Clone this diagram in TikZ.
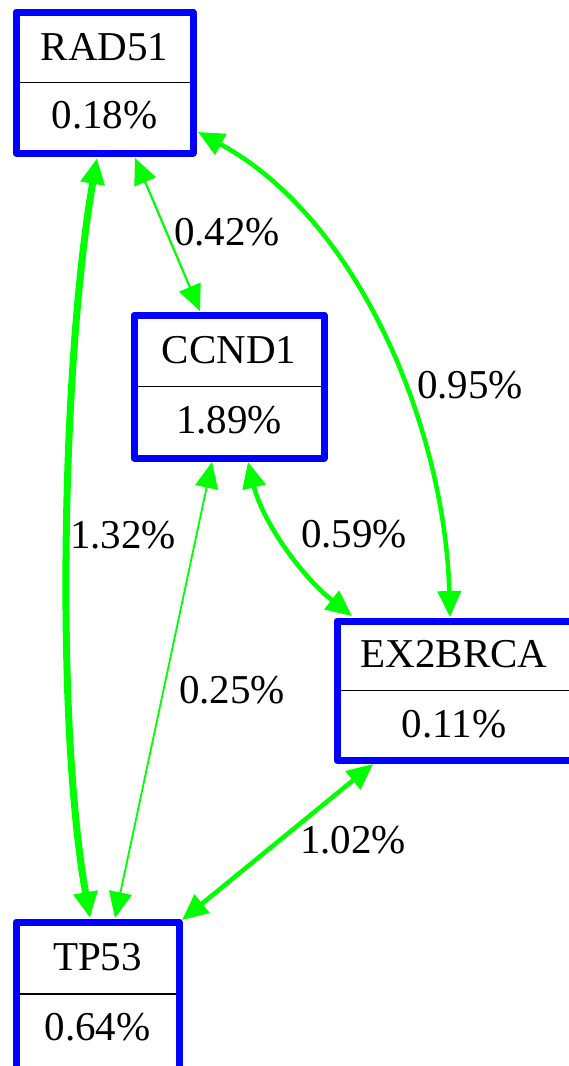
\documentclass[tikz,border=0pt]{standalone}
\usepackage{fontspec}
\setmainfont{Liberation Serif}
\newfontfamily\recfont{Liberation Serif}
\usetikzlibrary{arrows.meta}
\begin{document}
\begin{tikzpicture}[x=1pt,y=-1pt,
  record/.style={draw=blue,line width=7pt,line join=round,fill=white,
    inner sep=0pt,outer sep=0pt},
  divider/.style={draw=black,line width=1.6pt,shorten <=3.5pt,shorten >=3.5pt},
  txt/.style={anchor=base,inner sep=0pt,font=\recfont\fontsize{41}{41}\selectfont},
  link/.style={draw={rgb,255:red,0;green,255;blue,0},
    {Triangle[length=26pt,width=23pt]}-{Triangle[length=26pt,width=23pt]}},
  thin/.style={link,line width=2.2pt},
  mid/.style={link,line width=4.5pt},
  thick/.style={link,line width=7pt}]
\useasboundingbox (0,0) rectangle (569,1066);

% record nodes
\node[record,minimum width=177pt,minimum height=141pt] (rad) at (104.5,82.5) {};
\node[record,minimum width=190pt,minimum height=143pt] (ccnd) at (229,386.5) {};
\node[record,minimum width=244pt,minimum height=139pt] (ex) at (459,690.5) {};
\node[record,minimum width=163pt,minimum height=148pt] (tp) at (97.5,996) {};

\draw[divider] (rad.west) -- (rad.east);
\draw[divider] (ccnd.west) -- (ccnd.east);
\draw[divider] (ex.west) -- (ex.east);
\draw[divider] ([shift={(0,-2)}]tp.west) -- ([shift={(0,-2)}]tp.east);

\node[txt] (radname) at (104.5,60) {RAD51};
\node[txt] (radval) at (104.5,128) {0.18\%};
\node[txt] (ccndname) at (229,363) {CCND1};
\node[txt] (ccndval) at (229,433) {1.89\%};
\node[txt] (exname) at (454,667) {EX2BRCA};
\node[txt] (exval) at (454,737) {0.11\%};
\node[txt] (tpname) at (97.5,970) {TP53};
\node[txt] (tpval) at (97.5,1040) {0.64\%};

% connectors
\draw[thick] ([shift={(-7.5,5)}]rad.south)
  .. controls (62,360) and (55,720) .. ([shift={(-7.5,-4)}]tp.north);
\draw[thin] ([shift={(30.5,5)}]rad.south) -- ([shift={(-29,-4)}]ccnd.north);
\draw[mid] ([shift={(5,49.5)}]rad.east)
  .. controls (360,220) and (445,430) .. ([shift={(-9,-4)}]ex.north);
\draw[mid] ([shift={(19,4)}]ccnd.south)
  .. controls (262,520) and (300,575) .. ([shift={(-107,-5)}]ex.north);
\draw[thin,line width=1.8pt] ([shift={(-17,4)}]ccnd.south) -- ([shift={(17.5,-4)}]tp.north);
\draw[mid] ([shift={(-86,4)}]ex.south) -- ([shift={(3,-2)}]tp.north east);

% connector labels
\node[txt] (l1) at (123,548) {1.32\%};
\node[txt] (l2) at (227,245) {0.42\%};
\node[txt] (l3) at (470,398) {0.95\%};
\node[txt] (l4) at (354,547) {0.59\%};
\node[txt] (l5) at (232,703) {0.25\%};
\node[txt] (l6) at (353,853) {1.02\%};
\end{tikzpicture}
\end{document}
